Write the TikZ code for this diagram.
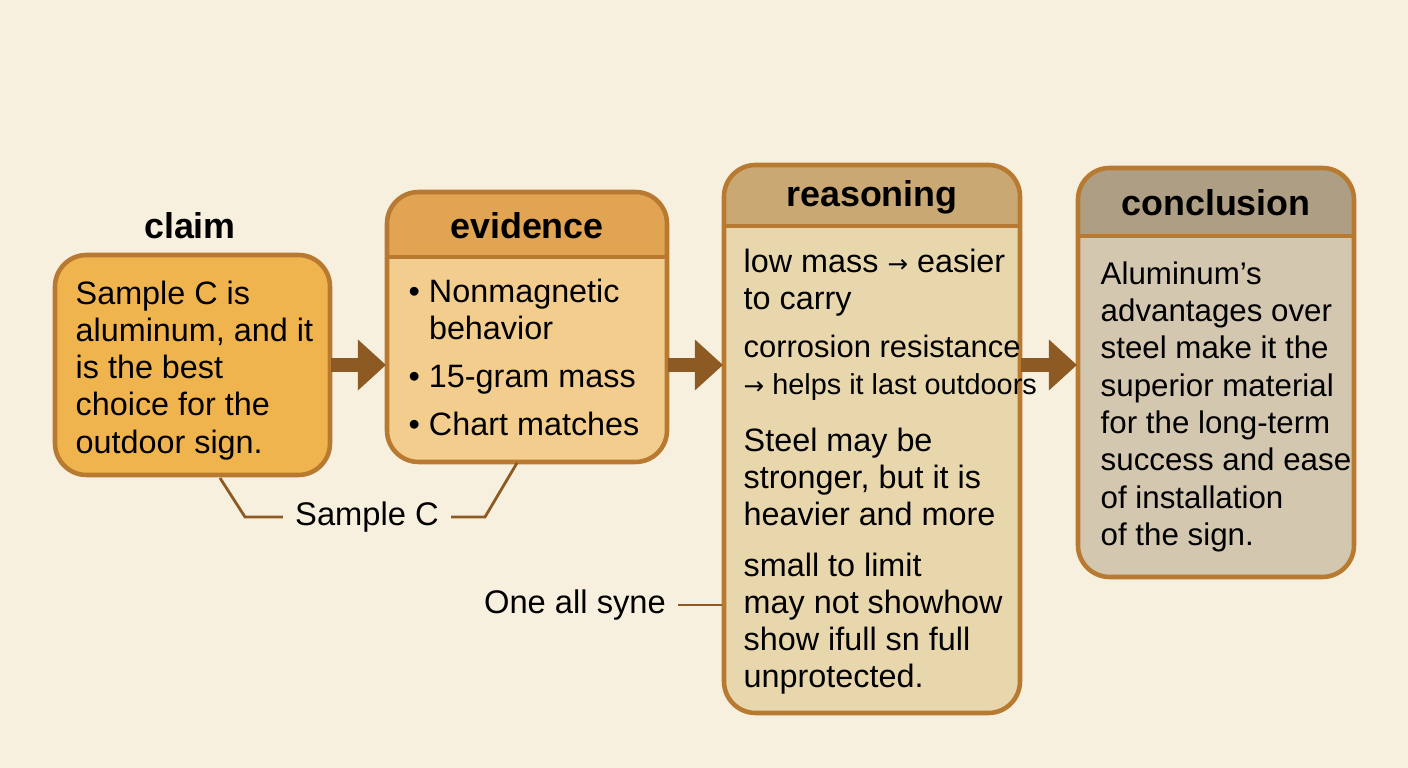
\documentclass[tikz,border=0pt]{standalone}
\usepackage{fontspec}
\setmainfont{Liberation Sans}
\newfontfamily\symfont{DejaVu Sans}
\usetikzlibrary{positioning,arrows.meta}
\definecolor{bgc}{HTML}{F8F0DF}
\definecolor{edgec}{HTML}{B87A30}
\definecolor{arrc}{HTML}{8C5A22}
\definecolor{claimc}{HTML}{F0B44E}
\definecolor{evhead}{HTML}{E0A452}
\definecolor{evbody}{HTML}{F2CD8E}
\definecolor{rehead}{HTML}{C9A874}
\definecolor{rebody}{HTML}{E8D6AC}
\definecolor{cohead}{HTML}{AE9F84}
\definecolor{cobody}{HTML}{D3C7AF}
\newcommand{\toarr}{{\symfont\fontsize{7}{8}\selectfont →}}
\tikzset{
  box/.style={draw=edgec,line width=1.3pt,rounded corners=9pt},
  txt/.style={anchor=north west,align=left,font=\fontsize{9.2}{10.6}\selectfont,inner sep=0pt},
  head/.style={font=\bfseries\fontsize{10.2}{12}\selectfont},
  flow/.style={draw=arrc,line width=4pt,-{Triangle[length=8pt,width=14pt]}},
  lead/.style={draw=arrc,line width=0.8pt}
}
\begin{document}
\begin{tikzpicture}[x=0.01cm,y=-0.01cm]
\fill[bgc] (0,0) rectangle (1408,768);

% claim
\node[head] (claimt) at (190,226) {claim};
\draw[box,fill=claimc] (55,255) rectangle (330,475);
\node[txt] (claimx) at (75,280) {Sample C is\\aluminum, and it\\is the best\\choice for the\\outdoor sign.};

% evidence
\begin{scope}
\clip[rounded corners=9pt] (387,192) rectangle (667,462);
\fill[evbody] (387,192) rectangle (667,462);
\fill[evhead] (387,192) rectangle (667,257);
\end{scope}
\draw[box] (387,192) rectangle (667,462);
\draw[edgec,line width=1pt] (387,257) -- (667,257);
\node[head] (evt) at (527,226) {evidence};
\node[txt] (evx) at (408,278) {\textbullet\ Nonmagnetic\\\phantom{\textbullet\ }behavior\\[3pt]\textbullet\ 15-gram mass\\[3pt]\textbullet\ Chart matches};

% reasoning
\begin{scope}
\clip[rounded corners=9pt] (724,165) rectangle (1020,713);
\fill[rebody] (724,165) rectangle (1020,713);
\fill[rehead] (724,165) rectangle (1020,226);
\end{scope}
\draw[box] (724,165) rectangle (1020,713);
\draw[edgec,line width=1pt] (724,226) -- (1020,226);
\node[head] (ret) at (872,197) {reasoning};
\node[txt] (rea) at (743,248) {low mass \toarr\ easier\\to carry};
\node[txt] (reb) at (743,334) {{\fontsize{8.8}{10.6}\selectfont corrosion resistance}\\{\fontsize{8.2}{10.6}\selectfont \toarr\ helps it last outdoors}};
\node[txt] (rec) at (743,427) {Steel may be\\stronger, but it is\\heavier and more};
\node[txt] (red) at (743,552) {small to limit\\may not showhow\\show ifull sn full\\unprotected.};

% conclusion
\begin{scope}
\clip[rounded corners=9pt] (1078,168) rectangle (1354,577);
\fill[cobody] (1078,168) rectangle (1354,577);
\fill[cohead] (1078,168) rectangle (1354,236);
\end{scope}
\draw[box] (1078,168) rectangle (1354,577);
\draw[edgec,line width=1pt] (1078,236) -- (1354,236);
\node[head] (cot) at (1216,203) {conclusion};
\node[txt,font=\fontsize{8.9}{10.6}\selectfont] (cox) at (1100,261) {Aluminum’s\\advantages over\\steel make it the\\superior material\\for the long-term\\success and ease\\of installation\\of the sign.};

% arrows
\coordinate (a1) at (331,365); \coordinate (b1) at (386,365);
\coordinate (a2) at (668,365); \coordinate (b2) at (723,365);
\coordinate (a3) at (1021,365); \coordinate (b3) at (1077,365);
\draw[flow] (a1) -- (b1);
\draw[flow] (a2) -- (b2);
\draw[flow] (a3) -- (b3);

% side labels
\node[font=\fontsize{9.3}{11}\selectfont] (samp) at (367,517) {Sample C};
\coordinate (s1) at (220,478); \coordinate (s2) at (517,463);
\draw[lead] (s1) -- (245,517) -- (samp.west);
\draw[lead] (samp.east) -- (485,517) -- (s2);
\node[font=\fontsize{9.3}{11}\selectfont] (one) at (575,605) {One all syne};
\coordinate (o1) at (722,605);
\draw[lead] (one.east) -- (o1);
\end{tikzpicture}
\end{document}
